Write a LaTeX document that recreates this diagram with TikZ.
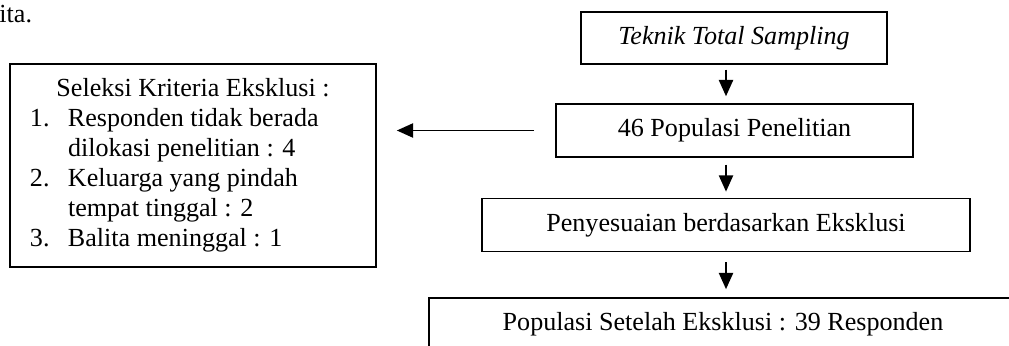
\documentclass[tikz,border=0pt]{standalone}
\usepackage{fontspec}
\setmainfont{Liberation Serif}
\usepackage{tikz}
\usetikzlibrary{arrows.meta}

\tikzset{
  flowbox/.style={draw, line width=0.7pt, inner sep=2pt, minimum height=24.4pt},
  flowarrow/.style={line width=0.9pt, -{Triangle[length=7.5pt,width=6.5pt]}}
}

\begin{document}
\begin{tikzpicture}[x=0.46pt, y=-0.46pt, font=\fontsize{12}{13.8}\selectfont]
    \clip (0,0) rectangle (1009,345);
    \fill[white] (0,0) rectangle (1009,345);
    \node[anchor=base west, inner sep=0] (ita) at (-1,22) {ita.};
    % main column
    \node[flowbox, minimum width=140.8pt, minimum height=23.9pt] (teknik) at (734,38) {\textit{Teknik Total Sampling}};
    \node[flowbox, minimum width=164.2pt] (populasi) at (734.5,130.5) {46 Populasi Penelitian};
    \node[flowbox, minimum width=224.5pt] (sesuai) at (726,225) {Penyesuaian berdasarkan Eksklusi};
    \node[flowbox, minimum width=270.5pt] (hasil) at (723,324.5) {Populasi Setelah Eksklusi : 39 Responden};
    % exclusion box
    \node[draw, line width=0.7pt, minimum width=168.4pt, minimum height=93.4pt, inner sep=0] (seleksi) at (193,165.5) {%
      \begin{tabular}{@{}p{17.5pt}@{}p{132.5pt}@{}}
        \multicolumn{2}{c}{Seleksi Kriteria Eksklusi :}\\
        1. & Responden tidak berada\\
           & dilokasi penelitian : 4\\
        2. & Keluarga yang pindah\\
           & tempat tinggal : 2\\
        3. & Balita meninggal : 1
      \end{tabular}};
    \coordinate (spine) at (726,0);
    \draw[flowarrow, shorten <=2.3pt, shorten >=3.2pt] (teknik.south -| spine) -- (populasi.north -| spine);
    \draw[flowarrow, shorten <=3.2pt, shorten >=2.8pt] (populasi.south -| spine) -- (sesuai.north -| spine);
    \draw[flowarrow, shorten <=4.6pt, shorten >=3.7pt] (sesuai.south -| spine) -- (hasil.north -| spine);
    \draw[flowarrow, shorten <=9.7pt, shorten >=9.2pt] (populasi.west) -- (populasi.west -| seleksi.east);
  \end{tikzpicture}
\end{document}
